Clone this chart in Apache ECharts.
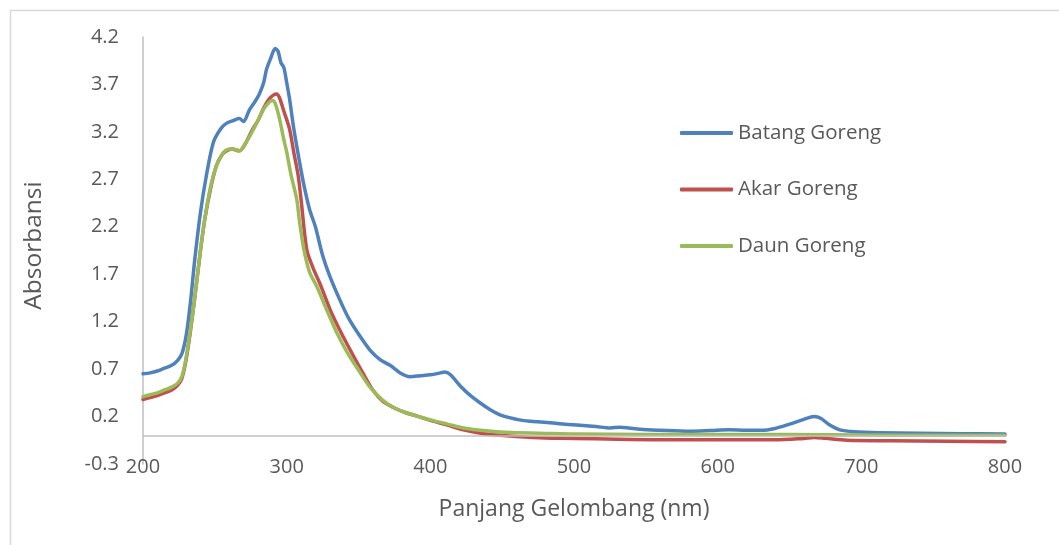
<!DOCTYPE html>
<html>
<head>
<meta charset="utf-8">
<script src="https://cdn.jsdelivr.net/npm/echarts@6/dist/echarts.min.js"></script>
<style>html,body{margin:0;padding:0;background:#fff}#c{width:1059px;height:545px}</style>
</head>
<body>
<div id="c"></div>
<script>
// Wavelength (nm) and absorbance readings
var batangX = [200,205,210,215,220,224,227,230,233,236,240,244,249,254,258,263,267,270,274,278,281,284,286,289,292,294,296,298,300,302,305,309,312,316,320,325,330,337,343,350,358,365,372,379,386,393,400,407,410,414,421,428,435,442,450,462,470,481,490,502,515,525,532,538,546,560,581,595,608,620,630,640,650,660,667,672,678,685,695,713,740,770,800];
var batangY = [0.65,0.66,0.68,0.71,0.74,0.79,0.86,1.05,1.40,1.85,2.35,2.73,3.09,3.23,3.29,3.32,3.34,3.31,3.43,3.52,3.60,3.72,3.86,3.98,4.08,4.05,3.93,3.88,3.72,3.55,3.23,2.88,2.64,2.38,2.20,1.90,1.68,1.43,1.24,1.07,0.90,0.80,0.74,0.66,0.62,0.63,0.64,0.66,0.67,0.64,0.52,0.42,0.34,0.27,0.21,0.165,0.15,0.137,0.125,0.11,0.095,0.08,0.088,0.08,0.065,0.055,0.045,0.052,0.06,0.055,0.055,0.075,0.12,0.17,0.20,0.18,0.11,0.06,0.04,0.03,0.025,0.02,0.017];

var akarX = [200,205,210,215,220,224,227,230,233,236,240,243,247,251,255,258,262,267,271,276,280,284,288,291,293,295,298,302,305,308,310,314,318,324,331,338,345,353,360,367,375,383,392,400,412,423,435,446,460,480,500,530,560,600,640,660,667,675,690,720,760,800];
var akarY = [0.38,0.40,0.42,0.45,0.48,0.53,0.60,0.80,1.10,1.45,1.95,2.28,2.60,2.84,2.96,3.00,3.02,3.00,3.07,3.22,3.32,3.45,3.55,3.59,3.60,3.56,3.42,3.23,2.98,2.74,2.49,1.96,1.78,1.57,1.30,1.08,0.88,0.66,0.48,0.36,0.29,0.24,0.20,0.16,0.11,0.06,0.025,0.006,-0.01,-0.025,-0.03,-0.04,-0.045,-0.045,-0.045,-0.03,-0.02,-0.03,-0.05,-0.055,-0.06,-0.065];

var daunX = [200,205,210,215,220,224,227,230,234,236,240,243,247,251,255,258,262,267,271,277,281,284,287,290,292,295,298,300,303,307,309,312,316,321,328,335,342,350,358,367,375,383,392,400,412,423,435,446,460,480,502,550,600,650,700,750,800];
var daunY = [0.41,0.43,0.45,0.48,0.51,0.55,0.62,0.82,1.22,1.45,1.95,2.28,2.62,2.84,2.96,3.01,3.02,3.00,3.07,3.23,3.35,3.44,3.50,3.53,3.50,3.34,3.12,2.99,2.75,2.49,2.25,1.96,1.72,1.57,1.32,1.08,0.88,0.69,0.51,0.37,0.29,0.24,0.20,0.165,0.12,0.08,0.055,0.04,0.03,0.022,0.015,0.012,0.01,0.01,0.005,0.003,0.002];

var seriesNames = ['Batang Goreng','Akar Goreng','Daun Goreng'];
var xTicks = [200,300,400,500,600,700,800];
var yTicks = [-0.3,0.2,0.7,1.2,1.7,2.2,2.7,3.2,3.7,4.2];

function pairs(xs, ys){ return xs.map(function(x,i){ return [x, ys[i]]; }); }

var txt = '#595959';
var font = 'Open Sans';
var chart = echarts.init(document.getElementById('c'), null, {renderer:'canvas'});
chart.setOption({
  animation:false,
  backgroundColor:'#fff',
  graphic:[{type:'rect', left:8, top:8, shape:{width:1100,height:600}, style:{fill:'none', stroke:'#d9d9d9', lineWidth:1.5}, silent:true, z:-10}],
  grid:{left:143, right:54, top:37, bottom:81, containLabel:false},
  legend:{
    orient:'vertical', left:675, top:116, itemWidth:53, itemHeight:4, itemGap:32.5, icon:'roundRect',
    textStyle:{color:txt, fontFamily:font, fontSize:20.5, lineHeight:24},
    data:seriesNames
  },
  xAxis:{
    type:'value', min:xTicks[0], max:xTicks[xTicks.length-1], interval:100,
    name:'Panjang Gelombang (nm)', nameLocation:'middle', nameGap:34,
    nameTextStyle:{color:txt, fontFamily:font, fontSize:23},
    axisLine:{show:false, onZero:false}, axisTick:{show:false}, splitLine:{show:false},
    axisLabel:{color:txt, fontFamily:font, fontSize:20, margin:-7}
  },
  yAxis:{
    type:'value', min:yTicks[0], max:yTicks[yTicks.length-1], interval:0.5,
    name:'Absorbansi', nameLocation:'middle', nameGap:96, nameRotate:90,
    nameTextStyle:{color:txt, fontFamily:font, fontSize:24.5, padding:[0,0,0,10]},
    axisLine:{show:true, lineStyle:{color:'#bfbfbf', width:1.5}}, axisTick:{show:false}, splitLine:{show:false},
    axisLabel:{color:txt, fontFamily:font, fontSize:20, margin:24, formatter:function(v){ return v.toFixed(1); }}
  },
  series:[
    {name:seriesNames[0], type:'line', data:pairs(batangX,batangY), symbol:'none', smooth:0.3,
     lineStyle:{color:'#4F81BD', width:3.5, cap:'round', join:'round'}, itemStyle:{color:'#4F81BD'},
     markLine:{silent:true, symbol:'none', label:{show:false}, lineStyle:{color:'#bfbfbf', type:'solid', width:1.5}, data:[{yAxis:0}], animation:false}},
    {name:seriesNames[1], type:'line', data:pairs(akarX,akarY), symbol:'none', smooth:0.3,
     lineStyle:{color:'#C0504D', width:3.5, cap:'round', join:'round'}, itemStyle:{color:'#C0504D'}},
    {name:seriesNames[2], type:'line', data:pairs(daunX,daunY), symbol:'none', smooth:0.3,
     lineStyle:{color:'#9BBB59', width:3.5, cap:'round', join:'round'}, itemStyle:{color:'#9BBB59'}}
  ]
});
</script>
</body>
</html>
